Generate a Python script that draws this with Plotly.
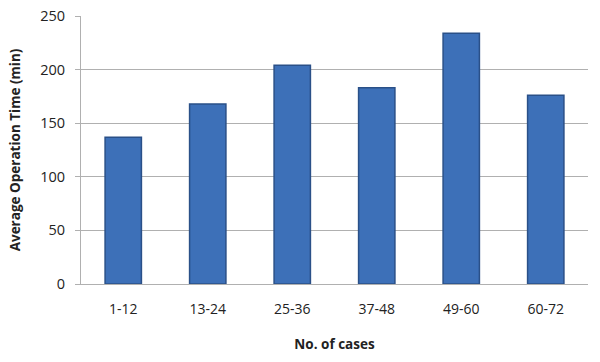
import plotly.graph_objects as go

categories = ["1-12", "13-24", "25-36", "37-48", "49-60", "60-72"]
avg_time = [137, 168, 204, 183, 234, 176]
y_ticks = [0, 50, 100, 150, 200, 250]

fig = go.Figure()
fig.add_trace(go.Bar(
    x=categories, y=avg_time,
    marker=dict(color="#3d70b8", line=dict(color="#2a5088", width=1.5)),
    width=0.43,
))

font_family = "Open Sans, Liberation Sans, sans-serif"
fig.update_layout(
    width=600, height=362,
    margin=dict(l=81, r=12, t=16, b=78, autoexpand=False),
    plot_bgcolor="white", paper_bgcolor="white",
    showlegend=False,
    font=dict(family=font_family, size=14, color="#222"),
    xaxis=dict(
        title=dict(text="<b>No. of cases</b>", font=dict(size=13.5), standoff=22),
        showline=True, linecolor="#b0b0b0", linewidth=1,
        ticks="", tickfont=dict(size=14), automargin=False,
        ticklabelstandoff=12,
    ),
    yaxis=dict(
        title=dict(text="<b>Average Operation Time (min)</b>", font=dict(size=13.5), standoff=16),
        range=[0, 250], tickvals=y_ticks,
        showline=True, linecolor="#b0b0b0", linewidth=1,
        showgrid=True, gridcolor="#b0b0b0", gridwidth=1,
        ticks="outside", ticklen=5, tickcolor="#b0b0b0",
        tickfont=dict(size=14.5), zeroline=False, automargin=False,
        ticklabelstandoff=7, ticklabeloverflow="allow",
    ),
)

fig.write_html(
    "out.html",
    config={"displayModeBar": False},
    post_script="document.body.style.margin='0';document.body.style.overflow='hidden';",
)
